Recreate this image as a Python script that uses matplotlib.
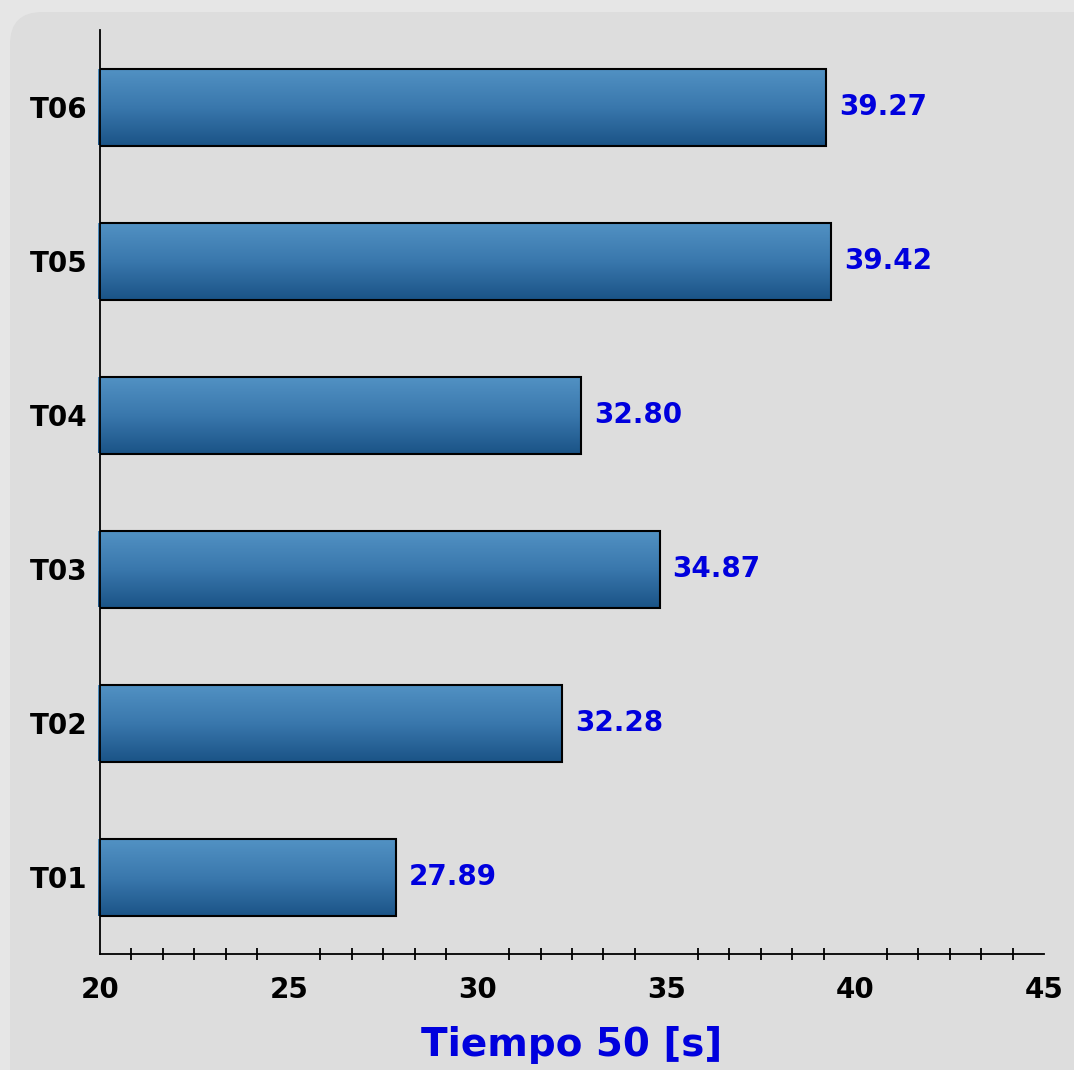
import numpy as np
import matplotlib.pyplot as plt
from matplotlib.patches import FancyBboxPatch
from matplotlib.colors import LinearSegmentedColormap
from matplotlib.ticker import MultipleLocator, FixedLocator

pruebas = ['T01', 'T02', 'T03', 'T04', 'T05', 'T06']
tiempos = [27.89, 32.28, 34.87, 32.80, 39.42, 39.27]

plt.rcParams['font.family'] = ['DejaVu Sans']

fig = plt.figure(figsize=(10.74, 10.70), dpi=100)
fig.patch.set_facecolor('#e6e6e6')

# fondo gris con esquina redondeada
fondo = FancyBboxPatch((10/1074, -0.1), 1.2, 1.1 - 12/1070,
                       boxstyle="round,pad=0,rounding_size=0.03",
                       transform=fig.transFigure, facecolor='#dddddd',
                       edgecolor='none', zorder=-5)
fig.patches.append(fondo)

ax = fig.add_axes([100/1074, 1 - 954/1070, 944/1074, 924/1070])
ax.set_facecolor('none')

y = np.arange(len(pruebas))
barras = ax.barh(y, [t - 20 for t in tiempos], left=19.95, height=0.5,
                 color='none', edgecolor='black', linewidth=1.5, zorder=3)

cmap = LinearSegmentedColormap.from_list('azul', ['#1b5487', '#3a78ad', '#5292c4'])
grad = np.linspace(0, 1, 256).reshape(-1, 1)
for b in barras:
    x0, y0 = b.get_x(), b.get_y()
    w, h = b.get_width(), b.get_height()
    im = ax.imshow(grad, cmap=cmap, aspect='auto', origin='lower',
                   extent=(x0, x0 + w, y0, y0 + h), zorder=2)
    im.set_clip_path(b)

for yi, t in zip(y, tiempos):
    ax.annotate(f'{t:.2f}', (t, yi), xytext=(8, 0), textcoords='offset points',
                va='center', ha='left', color='#0000dd', fontsize=20, fontweight='bold')

ax.set_xlim(20, 45)
ax.set_ylim(-0.5, 5.5)
ax.set_yticks(y)
ax.set_yticklabels(pruebas, fontsize=20, fontweight='bold')
ax.tick_params(axis='y', length=0, pad=9)

ax.xaxis.set_major_locator(MultipleLocator(5))
menores = [20 + k * 5 / 6 for k in range(31) if k % 6 != 0]
ax.xaxis.set_minor_locator(FixedLocator(menores))
ax.tick_params(axis='x', which='major', length=0, pad=16, labelsize=20)
ax.tick_params(axis='x', which='minor', direction='inout', length=8, width=1.3)
for lab in ax.get_xticklabels():
    lab.set_fontweight('bold')

ax.spines['top'].set_visible(False)
ax.spines['right'].set_visible(False)
ax.spines['left'].set_linewidth(1.3)
ax.spines['bottom'].set_linewidth(1.3)

ax.set_xlabel('Tiempo 50 [s]', fontsize=28, fontweight='bold', color='#0000dd', labelpad=16)

fig.savefig('out.png', dpi=100, facecolor=fig.get_facecolor())
